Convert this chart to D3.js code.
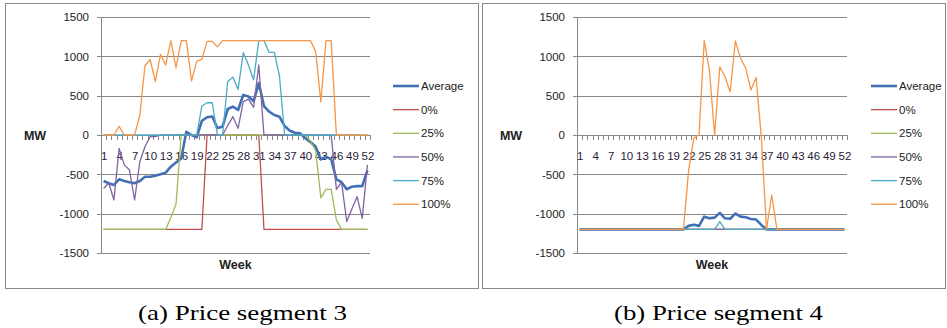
<!DOCTYPE html>
<html>
<head>
<meta charset="utf-8">
<script src="https://cdn.jsdelivr.net/npm/d3@7"></script>
<style>
  body { margin: 0; background: #fff; }
  svg { display: block; }
</style>
</head>
<body>
<svg id="chart" width="947" height="328"></svg>
<script>
// Weekly dispatch (MW) per price segment, one line per scenario quantile.
const weeks = d3.range(1, 53);
const weekLabels = [1, 4, 7, 10, 13, 16, 19, 22, 25, 28, 31, 34, 37, 40, 43, 46, 49, 52];
const yTicks = [-1500, -1000, -500, 0, 500, 1000, 1500];
const seriesNames = ["Average", "0%", "25%", "50%", "75%", "100%"];
const seriesColors = ["#4270B5", "#C0504D", "#9BBB59", "#8064A2", "#4BACC6", "#F79646"];
const captions = ["(a) Price segment 3", "(b) Price segment 4"];

// Price segment 3
const avgA = [
  -585, -614, -635, -563, -585, -601, -614, -585, -530, -530,
  -517, -500, -479, -403, -350, -300, 40, 0, -30, 180,
  225, 235, 90, 106, 330, 360, 318, 510, 490, 430,
  660, 368, 296, 254, 233, 114, 55, 29, 21, -42,
  -90, -150, -310, -275, -309, -563, -600, -690, -657, -650,
  -650, -450];
const p0A = [
  -1200, -1200, -1200, -1200, -1200, -1200, -1200, -1200, -1200, -1200,
  -1200, -1200, -1200, -1200, -1200, -1200, -1200, -1200, -1200, -1200,
  0, 0, 0, 0, 0, 0, 0, 0, 0, 0,
  0, -1200, -1200, -1200, -1200, -1200, -1200, -1200, -1200, -1200,
  -1200, -1200, -1200, -1200, -1200, -1200, -1200, -1200, -1200, -1200,
  -1200, -1200];
const p25A = [
  -1200, -1200, -1200, -1200, -1200, -1200, -1200, -1200, -1200, -1200,
  -1200, -1200, -1200, -1050, -880, 0, 0, 0, 0, 0,
  0, 0, 0, 0, 0, 0, 0, 0, 0, 0,
  0, 0, 0, 0, 0, 0, 0, 0, 0, 0,
  -80, -200, -800, -690, -690, -1080, -1200, -1200, -1200, -1200,
  -1200, -1200];
const p50A = [
  -680, -610, -826, -170, -380, -445, -826, -340, -150, -20,
  -20, 0, 0, 0, 0, 0, 0, 0, 0, 0,
  0, 0, 0, 0, 120, 233, 85, 424, 457, 352,
  890, 0, 0, 0, 0, 0, 0, 0, 0, 0,
  0, 0, 0, 0, 0, -690, -600, -1100, -940, -784,
  -1060, -380];
const p75A = [
  0, 0, 0, 0, 0, 0, 0, 0, 0, 0,
  0, 0, 0, 0, 0, 0, 0, 0, 0, 368,
  410, 410, 0, 0, 680, 735, 580, 1046, 890, 700,
  1200, 1200, 1050, 1050, 750, 0, 0, 0, 0, 0,
  0, 0, 0, 0, 0, 0, 0, 0, 0, 0,
  0, 0];
const p100A = [
  0, 0, 0, 110, 0, 0, 0, 250, 880, 960,
  680, 1025, 890, 1200, 855, 1200, 1200, 686, 940, 960,
  1190, 1190, 1120, 1200, 1200, 1200, 1200, 1200, 1200, 1200,
  1200, 1200, 1200, 1200, 1200, 1200, 1200, 1200, 1200, 1200,
  1200, 1060, 420, 1200, 1200, 0, 0, 0, 0, 0,
  0, 0];

// Price segment 4
const avgB = [
  -1200, -1200, -1200, -1200, -1200, -1200, -1200, -1200, -1200, -1200,
  -1200, -1200, -1200, -1200, -1200, -1200, -1200, -1200, -1200, -1200,
  -1200, -1155, -1140, -1155, -1038, -1059, -1050, -990, -1059, -1065,
  -1000, -1038, -1046, -1067, -1075, -1143, -1200, -1200, -1200, -1200,
  -1200, -1200, -1200, -1200, -1200, -1200, -1200, -1200, -1200, -1200,
  -1200, -1200];
const p0B = [
  -1200, -1200, -1200, -1200, -1200, -1200, -1200, -1200, -1200, -1200,
  -1200, -1200, -1200, -1200, -1200, -1200, -1200, -1200, -1200, -1200,
  -1200, -1200, -1200, -1200, -1200, -1200, -1200, -1200, -1200, -1200,
  -1200, -1200, -1200, -1200, -1200, -1200, -1200, -1200, -1200, -1200,
  -1200, -1200, -1200, -1200, -1200, -1200, -1200, -1200, -1200, -1200,
  -1200, -1200];
const p25B = [
  -1200, -1200, -1200, -1200, -1200, -1200, -1200, -1200, -1200, -1200,
  -1200, -1200, -1200, -1200, -1200, -1200, -1200, -1200, -1200, -1200,
  -1200, -1200, -1200, -1200, -1200, -1200, -1200, -1200, -1200, -1200,
  -1200, -1200, -1200, -1200, -1200, -1200, -1200, -1200, -1200, -1200,
  -1200, -1200, -1200, -1200, -1200, -1200, -1200, -1200, -1200, -1200,
  -1200, -1200];
const p50B = [
  -1200, -1200, -1200, -1200, -1200, -1200, -1200, -1200, -1200, -1200,
  -1200, -1200, -1200, -1200, -1200, -1200, -1200, -1200, -1200, -1200,
  -1200, -1200, -1200, -1200, -1200, -1200, -1200, -1200, -1200, -1200,
  -1200, -1200, -1200, -1200, -1200, -1200, -1200, -1200, -1200, -1200,
  -1200, -1200, -1200, -1200, -1200, -1200, -1200, -1200, -1200, -1200,
  -1200, -1200];
const p75B = [
  -1200, -1200, -1200, -1200, -1200, -1200, -1200, -1200, -1200, -1200,
  -1200, -1200, -1200, -1200, -1200, -1200, -1200, -1200, -1200, -1200,
  -1200, -1200, -1200, -1200, -1200, -1200, -1200, -1100, -1200, -1200,
  -1200, -1200, -1200, -1200, -1200, -1200, -1200, -1200, -1200, -1200,
  -1200, -1200, -1200, -1200, -1200, -1200, -1200, -1200, -1200, -1200,
  -1200, -1200];
const p100B = [
  -1200, -1200, -1200, -1200, -1200, -1200, -1200, -1200, -1200, -1200,
  -1200, -1200, -1200, -1200, -1200, -1200, -1200, -1200, -1200, -1200,
  -1200, -450, -40, 0, 1200, 826, 0, 868, 741, 550,
  1195, 975, 848, 572, 730, -30, -1200, -763, -1200, -1200,
  -1200, -1200, -1200, -1200, -1200, -1200, -1200, -1200, -1200, -1200,
  -1200, -1200];

const svg = d3.select("#chart");
const GRID = "#888888";
const SANS = 'Arial, "Liberation Sans", sans-serif';
const SERIF = '"Times New Roman", "Liberation Serif", serif';
const plainNumber = d => String(d);

const panels = [
  { frame: [5.5, 3.5, 473, 285], x0: 101, x1: 370, legX: 393, mwX: 35, capX: 242.5,
    data: [avgA, p0A, p25A, p50A, p75A, p100A] },
  { frame: [482.5, 3.5, 463, 285], x0: 577, x1: 847, legX: 871, mwX: 511, capX: 718.5,
    data: [avgB, p0B, p25B, p50B, p75B, p100B] }
];

panels.forEach((p, pi) => {
  const g = svg.append("g");

  // chart frame
  g.append("rect")
    .attr("x", p.frame[0]).attr("y", p.frame[1])
    .attr("width", p.frame[2]).attr("height", p.frame[3])
    .attr("fill", "#fff").attr("stroke", GRID).attr("stroke-width", 1);

  const x = d3.scaleLinear().domain([0.5, 52.5]).range([p.x0, p.x1]);
  const y = d3.scaleLinear().domain([-1500, 1500]).range([253, 17]);

  // horizontal gridlines
  const grid = g.append("g")
    .attr("transform", `translate(${p.x0},0)`)
    .call(d3.axisLeft(y).tickValues(yTicks.filter(v => v !== 0))
      .tickSize(-(p.x1 - p.x0)).tickFormat(""));
  grid.select(".domain").remove();
  grid.selectAll(".tick line").attr("stroke", GRID).attr("shape-rendering", "crispEdges");

  // value axis
  const ya = g.append("g")
    .attr("transform", `translate(${p.x0},0)`)
    .attr("font-family", SANS)
    .call(d3.axisLeft(y).tickValues(yTicks).tickSize(4).tickPadding(8).tickFormat(plainNumber));
  ya.attr("font-family", SANS);
  ya.select(".domain").attr("stroke", GRID).attr("shape-rendering", "crispEdges");
  ya.selectAll(".tick line").attr("stroke", GRID).attr("shape-rendering", "crispEdges");
  ya.selectAll(".tick text").attr("font-size", 11.5).attr("fill", "#222");

  // category axis crossing at zero, ticks between weeks
  const xt = g.append("g")
    .attr("transform", `translate(0,${y(0)})`)
    .call(d3.axisBottom(x).tickValues(d3.range(0.5, 53, 1)).tickSize(5).tickFormat(""));
  xt.select(".domain").attr("stroke", GRID).attr("shape-rendering", "crispEdges");
  xt.selectAll(".tick line").attr("stroke", GRID).attr("shape-rendering", "crispEdges");

  const xl = g.append("g")
    .attr("transform", `translate(0,${y(0)})`)
    .call(d3.axisBottom(x).tickValues(weekLabels).tickSize(0).tickPadding(17).tickFormat(plainNumber));
  xl.attr("font-family", SANS);
  xl.select(".domain").remove();
  xl.selectAll(".tick text").attr("font-size", 11.5).attr("fill", "#2a2038");

  // series lines
  const line = d3.line().x((d, i) => x(weeks[i])).y(d => y(d));
  p.data.forEach((vals, si) => {
    g.append("path")
      .datum(vals)
      .attr("d", line)
      .attr("fill", "none")
      .attr("stroke", seriesColors[si])
      .attr("stroke-width", si === 0 ? 2.6 : 1.3)
      .attr("stroke-linejoin", "round");
  });

  // axis titles
  g.append("text").text("MW")
    .attr("x", p.mwX).attr("y", y(0) + 4.5)
    .attr("text-anchor", "middle").attr("font-family", SANS)
    .attr("font-weight", "bold").attr("font-size", 12.5).attr("fill", "#222");
  g.append("text").text("Week")
    .attr("x", (p.x0 + p.x1) / 2).attr("y", 268.5)
    .attr("text-anchor", "middle").attr("font-family", SANS)
    .attr("font-weight", "bold").attr("font-size", 12.5).attr("fill", "#222");

  // legend
  const leg = g.append("g");
  seriesNames.forEach((name, si) => {
    const ly = 86 + si * 23.65;
    leg.append("line")
      .attr("x1", p.legX).attr("x2", p.legX + 26)
      .attr("y1", ly).attr("y2", ly)
      .attr("stroke", seriesColors[si])
      .attr("stroke-width", si === 0 ? 2.6 : 1.3);
    leg.append("text").text(name)
      .attr("x", p.legX + 28).attr("y", ly + 4)
      .attr("font-family", SANS).attr("font-size", 11.5).attr("fill", "#222");
  });

  // caption
  svg.append("text").text(captions[pi])
    .attr("x", p.capX).attr("y", 320)
    .attr("text-anchor", "middle")
    .attr("font-family", SERIF)
    .attr("font-size", 21)
    .attr("textLength", 209).attr("lengthAdjust", "spacingAndGlyphs")
    .attr("fill", "#000");
});
</script>
</body>
</html>
